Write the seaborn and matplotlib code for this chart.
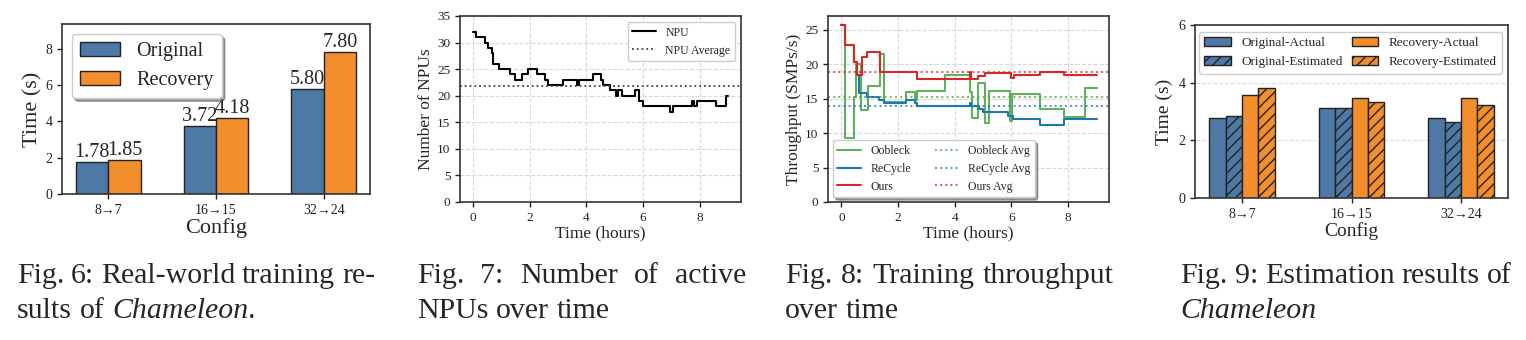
import numpy as np
import pandas as pd
import matplotlib
matplotlib.use("Agg")
import matplotlib.pyplot as plt
import seaborn as sns

# ---------------- data ----------------
configs = ["8→7", "16→15", "32→24"]
fig6_original = [1.78, 3.72, 5.80]
fig6_recovery = [1.85, 4.18, 7.80]

npu_time = [0, 0.12, 0.44, 0.55, 0.67, 0.73, 0.91, 1.32, 1.50, 1.73, 1.95, 2.26, 2.56, 2.65,
            3.17, 3.68, 3.76, 4.25, 4.51, 4.60, 4.83, 5.04, 5.12, 5.24, 5.71, 5.87, 5.99,
            6.96, 7.04, 7.72, 7.81, 7.90, 8.58, 8.92, 9.00]
npu_count = [32, 31, 30, 29, 28, 26, 25, 24, 23, 24, 25, 24, 23, 22, 23, 22, 23, 24, 23, 22,
             21, 20, 21, 20, 21, 19, 18, 17, 18, 19, 18, 19, 18, 20, 20]
npu_average = 21.9

oobleck_time = [0, 0.13, 0.45, 0.53, 0.70, 0.93, 1.35, 1.50, 2.30, 2.59, 2.67, 3.65, 4.56,
                4.61, 4.82, 5.06, 5.23, 5.94, 6.04, 7.00, 7.85, 8.59, 9.02]
oobleck_tp = [25.7, 9.3, 15.2, 20.0, 13.3, 16.8, 21.5, 14.5, 16.0, 14.8, 16.1, 18.5, 15.9,
              12.2, 17.3, 11.4, 16.1, 11.8, 15.7, 13.5, 12.3, 16.5, 16.5]
recycle_time = [0, 0.13, 0.45, 0.56, 0.62, 0.92, 1.33, 1.50, 2.28, 2.59, 2.67, 4.53, 4.58,
                4.86, 5.00, 5.90, 6.06, 7.00, 7.86, 9.02]
recycle_tp = [25.7, 22.8, 20.3, 18.5, 15.8, 15.3, 14.8, 14.3, 14.8, 14.3, 13.9, 14.3, 13.9,
              13.5, 13.0, 12.5, 12.0, 11.2, 12.0, 12.0]
ours_time = [0, 0.13, 0.45, 0.56, 0.72, 0.92, 1.36, 2.67, 4.53, 4.57, 4.82, 5.06, 5.98, 6.08,
             7.00, 7.86, 9.02]
ours_tp = [25.7, 22.8, 20.3, 18.5, 21.1, 21.8, 18.9, 17.8, 18.9, 17.8, 18.3, 18.7, 18.0, 18.5,
           18.9, 18.5, 18.5]
oobleck_avg = 15.3
recycle_avg = 13.9
ours_avg = 18.9

fig9_series = ["Original-Actual", "Original-Estimated", "Recovery-Actual", "Recovery-Estimated"]
fig9_orig_actual = [2.76, 3.13, 2.78]
fig9_orig_est = [2.84, 3.13, 2.64]
fig9_rec_actual = [3.57, 3.46, 3.48]
fig9_rec_est = [3.83, 3.34, 3.21]

# ---------------- style ----------------
sns.set_style("ticks")
plt.rcParams["font.family"] = ["Liberation Serif", "DejaVu Serif"]
plt.rcParams["hatch.linewidth"] = 1.0
plt.rcParams["legend.edgecolor"] = "#cccccc"

BLUE = "#4E79A7"
ORANGE = "#F28E2B"
EDGE = "#222222"
W, H = 1526, 340

fig = plt.figure(figsize=(W / 100, H / 100), dpi=100)


def axes_px(l, t, r, b):
    return fig.add_axes([l / W, (H - b) / H, (r - l) / W, (b - t) / H])


def style_spines(ax):
    for s in ax.spines.values():
        s.set_visible(True)
        s.set_color("#333333")
        s.set_linewidth(1.2)
    ax.tick_params(length=3.5, width=1, colors="#222222")


# ---------------- Fig 6 ----------------
ax6 = axes_px(62, 24, 370, 194)
df6 = pd.DataFrame({
    "Config": configs * 2,
    "Time": fig6_original + fig6_recovery,
    "Series": ["Original"] * 3 + ["Recovery"] * 3,
})
sns.barplot(data=df6, x="Config", y="Time", hue="Series", palette=[BLUE, ORANGE],
            width=0.6, edgecolor=EDGE, linewidth=1, saturation=1, errorbar=None, ax=ax6)
for c in ax6.containers:
    ax6.bar_label(c, fmt="%.2f", fontsize=14.5, padding=0)
ax6.set_xlim(-0.43, 2.43)
ax6.set_ylim(0, 9.36)
ax6.set_yticks([0, 2, 4, 6, 8])
ax6.set_xlabel("Config", fontsize=16, labelpad=1)
ax6.set_ylabel("Time (s)", fontsize=16, labelpad=2)
ax6.tick_params(labelsize=10)
ax6.legend(loc="upper left", fontsize=14.5, shadow=True, fancybox=True, framealpha=1,
           handlelength=2.0, borderaxespad=0.5)
style_spines(ax6)

# ---------------- Fig 7 ----------------
ax7 = axes_px(460, 16, 741, 202)
sns.lineplot(x=npu_time, y=npu_count, ax=ax7, drawstyle="steps-post", color="black",
             linewidth=1.5, label="NPU", estimator=None)
ax7.axhline(npu_average, color="#444444", linestyle=":", linewidth=1.3, label="NPU Average")
ax7.set_xlim(-0.45, 9.45)
ax7.set_ylim(0, 35)
ax7.set_yticks(range(0, 36, 5))
ax7.set_xticks([0, 2, 4, 6, 8])
ax7.grid(True, linestyle="--", color="#d9d9d9", linewidth=0.8)
ax7.set_xlabel("Time (hours)", fontsize=12.5, labelpad=1)
ax7.set_ylabel("Number of NPUs", fontsize=12.5, labelpad=2)
ax7.tick_params(labelsize=9.5)
ax7.legend(loc="upper right", fontsize=8.5, framealpha=1, fancybox=True)
style_spines(ax7)

# ---------------- Fig 8 ----------------
ax8 = axes_px(828, 16, 1109, 202)
G, B, R = "#4fa84c", "#1f77b4", "#d62728"
sns.lineplot(x=oobleck_time, y=oobleck_tp, ax=ax8, drawstyle="steps-post", color=G,
             linewidth=1.5, alpha=0.9, label="Oobleck", estimator=None)
sns.lineplot(x=recycle_time, y=recycle_tp, ax=ax8, drawstyle="steps-post", color=B,
             linewidth=1.5, label="ReCycle", estimator=None)
sns.lineplot(x=ours_time, y=ours_tp, ax=ax8, drawstyle="steps-post", color=R,
             linewidth=1.5, label="Ours", estimator=None)
ax8.axhline(oobleck_avg, color=G, linestyle=":", linewidth=1.4, alpha=0.8, label="Oobleck Avg")
ax8.axhline(recycle_avg, color=B, linestyle=":", linewidth=1.4, alpha=0.8, label="ReCycle Avg")
ax8.axhline(ours_avg, color=R, linestyle=":", linewidth=1.4, alpha=0.8, label="Ours Avg")
ax8.set_xlim(-0.47, 9.45)
ax8.set_ylim(0, 27.0)
ax8.set_yticks(range(0, 26, 5))
ax8.set_xticks([0, 2, 4, 6, 8])
ax8.grid(True, linestyle="--", color="#d9d9d9", linewidth=0.8)
ax8.set_xlabel("Time (hours)", fontsize=12.5, labelpad=1)
ax8.set_ylabel("Throughput (SMPs/s)", fontsize=12.5, labelpad=2)
ax8.tick_params(labelsize=9.5)
ax8.legend(loc="lower left", ncol=2, fontsize=8.5, shadow=True, fancybox=True, framealpha=1,
           columnspacing=2.0, borderaxespad=0.4)
style_spines(ax8)

# ---------------- Fig 9 ----------------
ax9 = axes_px(1195, 25, 1508, 198)
df9 = pd.DataFrame({
    "Config": configs * 4,
    "Time": fig9_orig_actual + fig9_orig_est + fig9_rec_actual + fig9_rec_est,
    "Series": sum([[s] * 3 for s in fig9_series], []),
})
sns.barplot(data=df9, x="Config", y="Time", hue="Series", hue_order=fig9_series,
            palette=[BLUE, BLUE, ORANGE, ORANGE], width=0.6, edgecolor=EDGE, linewidth=1,
            saturation=1, errorbar=None, ax=ax9)
for i in (1, 3):
    for p in ax9.containers[i]:
        p.set_hatch("///")
ax9.set_xlim(-0.43, 2.43)
ax9.set_ylim(0, 6)
ax9.set_yticks([0, 2, 4, 6])
ax9.yaxis.grid(True, linestyle="--", color="#dddddd", linewidth=0.8)
ax9.set_axisbelow(True)
ax9.set_xlabel("Config", fontsize=14, labelpad=1)
ax9.set_ylabel("Time (s)", fontsize=14, labelpad=4)
ax9.tick_params(labelsize=10)
ax9.legend(handles=list(ax9.containers), labels=fig9_series, loc="upper left", ncol=2,
           bbox_to_anchor=(0.013, 0.96, 0.967, 0), mode="expand", borderaxespad=0,
           fontsize=9.5, fancybox=True, framealpha=1, shadow=False)
style_spines(ax9)

# ---------------- captions ----------------
CFS = 21.5
renderer = fig.canvas.get_renderer()


def text_px(x, y, s, style="normal"):
    return fig.text(x / W, (H - y) / H, s, fontsize=CFS, style=style, va="baseline", ha="left")


def width_of(t):
    return t.get_window_extent(renderer).width


probe_a = fig.text(0, 0, "aa", fontsize=CFS)
probe_b = fig.text(0, 0, "a a", fontsize=CFS)
SPACE = width_of(probe_b) - width_of(probe_a)
probe_a.remove()
probe_b.remove()


def justified(words, x0, x1, y):
    ts = [text_px(x0, y, w) for w in words]
    ws = [width_of(t) for t in ts]
    gap = (x1 - x0 - sum(ws)) / (len(words) - 1)
    x = x0
    for t, w in zip(ts, ws):
        t.set_x(x / W)
        x += w + gap


def runs(parts, x0, y):
    x = x0
    for s, st, sp in parts:
        t = text_px(x, y, s, st)
        x += width_of(t) + (SPACE if sp else 0)


Y1, Y2 = 283, 318
justified(["Fig.", "6:", "Real-world", "training", "re-"], 17, 375, Y1)
runs([("sults", "normal", True), ("of", "normal", True), ("Chameleon", "italic", False),
      (".", "normal", False)], 17, Y2)
justified(["Fig.", "7:", "Number", "of", "active"], 417, 746, Y1)
runs([("NPUs", "normal", True), ("over", "normal", True), ("time", "normal", False)], 417, Y2)
justified(["Fig.", "8:", "Training", "throughput"], 785, 1114, Y1)
runs([("over", "normal", True), ("time", "normal", False)], 785, Y2)
justified(["Fig.", "9:", "Estimation", "results", "of"], 1180, 1512, Y1)
runs([("Chameleon", "italic", False)], 1180, Y2)

fig.savefig("out.png", dpi=100)
